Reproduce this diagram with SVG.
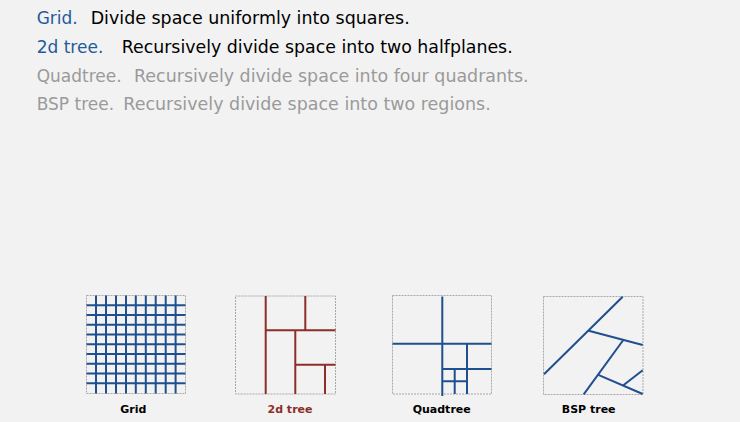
<svg xmlns="http://www.w3.org/2000/svg" width="740" height="422" viewBox="0 0 740 422">
<style>
.bg{fill:#f2f2f2}
.t{font-family:"DejaVu Sans","Liberation Sans",sans-serif;font-size:17px}
.k{fill:#1f5b9b}
.d{fill:#000}
.g{fill:#9a9a9a}
.box{fill:none;stroke:#a8a8a8;stroke-width:1;stroke-dasharray:2 1}
.b{stroke:#1f4f8f;stroke-width:2;fill:none}
.r{stroke:#8c2f28;stroke-width:2;fill:none}
.lab{font-family:"DejaVu Sans","Liberation Sans",sans-serif;font-size:11px;font-weight:bold;text-anchor:middle;fill:#000}
</style>
<rect class="bg" x="0" y="0" width="740" height="422"/>
<g id="text">
<text class="t k" x="36.7" y="24">Grid.</text>
<text class="t d" x="90.7" y="24" textLength="319" lengthAdjust="spacingAndGlyphs">Divide space uniformly into squares.</text>
<text class="t k" x="36.7" y="53">2d tree.</text>
<text class="t d" x="121.7" y="53" textLength="391" lengthAdjust="spacingAndGlyphs">Recursively divide space into two halfplanes.</text>
<text class="t g" x="36.7" y="81.5">Quadtree.</text>
<text class="t g" x="134" y="81.5" textLength="394.6" lengthAdjust="spacingAndGlyphs">Recursively divide space into four quadrants.</text>
<text class="t g" x="36.7" y="110">BSP tree.</text>
<text class="t g" x="123.3" y="110" textLength="367.4" lengthAdjust="spacingAndGlyphs">Recursively divide space into two regions.</text>
</g>
<g id="grid">
<rect class="box" x="86.5" y="295.5" width="99" height="98"/>
<path class="b" d="M96,295.5V393.5M106,295.5V393.5M116,295.5V393.5M126,295.5V393.5M135.8,295.5V393.5M145.8,295.5V393.5M155.7,295.5V393.5M165.7,295.5V393.5M175.6,295.5V393.5"/>
<path class="b" d="M86.5,305.2H185.5M86.5,315H185.5M86.5,324.7H185.5M86.5,334.5H185.5M86.5,344.2H185.5M86.5,354H185.5M86.5,363.7H185.5M86.5,373.5H185.5M86.5,383.2H185.5"/>
<text class="lab" x="133.4" y="413">Grid</text>
</g>
<g id="kdtree">
<rect class="box" x="235.5" y="296" width="100" height="98"/>
<path class="r" d="M265.7,296V394M305.3,296V330.3M265.7,330.3H335.5M295.3,330.3V394M295.3,364.7H335.5M325,364.7V394"/>
<text class="lab" x="290" y="413" style="fill:#8c2f28">2d tree</text>
</g>
<g id="quadtree">
<rect class="box" x="392.5" y="295.5" width="99" height="98.5"/>
<path class="b" d="M442.3,296.5V396M392.5,343.7H491.5M467,343.7V394M442.3,369H491.5M454.7,369V394M442.3,381.3H467"/>
<text class="lab" x="441.7" y="413">Quadtree</text>
</g>
<g id="bsptree">
<rect class="box" x="543.5" y="296.5" width="99.5" height="98"/>
<path class="b" d="M544,374.3L622.7,296.7M588.7,330.7L642.7,345M583.7,394.3L623.3,340M598.3,374.8L642.7,394M622.7,385.7L642.7,370.3"/>
<text class="lab" x="588.7" y="413">BSP tree</text>
</g>
</svg>
